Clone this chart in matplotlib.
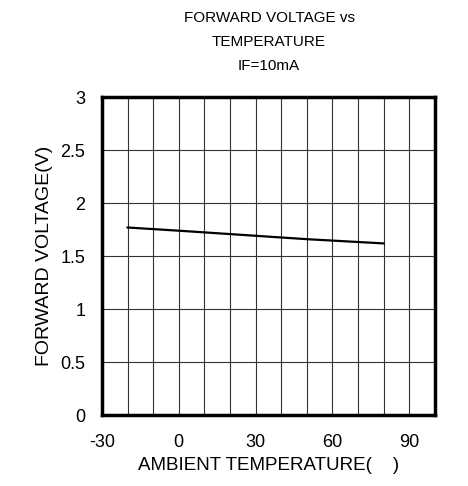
import numpy as np
import matplotlib.pyplot as plt

plt.rcParams['font.family'] = ['Liberation Sans', 'DejaVu Sans']

# forward voltage
temp = [-20, 0, 25, 50, 80]
vf = [1.77, 1.74, 1.70, 1.66, 1.62]

xticks = [-30, 0, 30, 60, 90]
xticklabels = ['-30', '0', '30', '60', '90']
yticks = [0, 0.5, 1, 1.5, 2, 2.5, 3]
yticklabels = ['0', '0.5', '1', '1.5', '2', '2.5', '3']
title_lines = ['FORWARD VOLTAGE vs', 'TEMPERATURE', 'IF=10mA']

fig = plt.figure(figsize=(4.68, 4.86), dpi=100)
ax = fig.add_axes([0.218, 0.146, 0.711, 0.654])

for gx in np.arange(-20, 100, 10):
    ax.axvline(gx, color='#333333', lw=0.8, zorder=1)
for gy in yticks[1:-1]:
    ax.axhline(gy, color='#333333', lw=0.8, zorder=1)

ax.plot(temp, vf, color='black', lw=1.6, zorder=3)

ax.set_xlim(-30, 100)
ax.set_ylim(0, 3)
ax.set_xticks(xticks)
ax.set_xticklabels(xticklabels)
ax.set_yticks(yticks)
ax.set_yticklabels(yticklabels)
ax.tick_params(length=0, labelsize=13)
ax.tick_params(axis='x', pad=14)
ax.tick_params(axis='y', pad=12)
for s in ax.spines.values():
    s.set_linewidth(2.5)

ax.set_xlabel('AMBIENT TEMPERATURE(    )', fontsize=13.5, labelpad=4)
ax.set_ylabel('FORWARD VOLTAGE(V)', fontsize=14, labelpad=5)

for i, line in enumerate(title_lines):
    fig.text(0.575, 1 - (18 + 24 * i) / 486, line, fontsize=11,
             ha='center', va='center')

fig.savefig('out.png', dpi=100)
